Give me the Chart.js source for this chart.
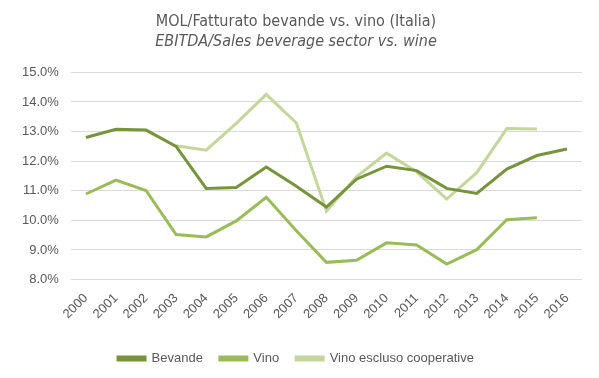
<!DOCTYPE html>
<html lang="it">
<head>
  <meta charset="UTF-8">
  <title>MOL/Fatturato bevande vs. vino</title>
  <script src="https://cdn.jsdelivr.net/npm/chart.js"></script>
  <style>
    html, body {
      margin: 0;
      padding: 0;
      background: #ffffff;
    }
    .chart-box {
      width: 599px;
      height: 378px;
    }
  </style>
</head>
<body>
  <div class="chart-box">
    <canvas id="chart"></canvas>
  </div>
  <script>
    // anni
    const years = ['2000', '2001', '2002', '2003', '2004', '2005', '2006', '2007', '2008',
      '2009', '2010', '2011', '2012', '2013', '2014', '2015', '2016'];

    // MOL/Fatturato in %
    const bevande = [12.80, 13.08, 13.05, 12.50, 11.08, 11.11, 11.80, 11.15, 10.45,
      11.39, 11.83, 11.68, 11.08, 10.91, 11.73, 12.19, 12.41];
    const vino = [10.89, 11.36, 11.01, 9.52, 9.44, 9.98, 10.78, 9.65, 8.58,
      8.65, 9.24, 9.17, 8.52, 9.01, 10.02, 10.09, null];
    const vinoEsclusoCoop = [null, null, null, 12.52, 12.37, 13.28, 14.26, 13.29, 10.31,
      11.47, 12.27, 11.64, 10.72, 11.61, 13.10, 13.09, null];

    const grey = '#595959';
    const font = 'Liberation Sans, Arial, sans-serif';

    function serie(label, data, color) {
      return {
        label: label,
        data: data,
        borderColor: color,
        backgroundColor: color,
        borderWidth: 3,
        pointRadius: 0,
        tension: 0,
        fill: false
      };
    }

    new Chart(document.getElementById('chart'), {
      type: 'line',
      data: {
        labels: years,
        datasets: [
          serie('Bevande', bevande, '#77933c'),
          serie('Vino', vino, '#9bbb59'),
          serie('Vino escluso cooperative', vinoEsclusoCoop, '#c3d69b')
        ]
      },
      options: {
        responsive: true,
        maintainAspectRatio: false,
        animation: false,
        layout: { padding: { left: 10, right: 17, top: 12, bottom: 3 } },
        plugins: {
          title: {
            display: true,
            text: 'MOL/Fatturato bevande vs. vino (Italia)',
            color: grey,
            font: { family: 'DejaVu Sans Condensed, Liberation Sans Narrow, sans-serif', size: 16, weight: 'normal' },
            padding: { top: 0, bottom: 1 }
          },
          subtitle: {
            display: true,
            text: 'EBITDA/Sales beverage sector vs. wine',
            color: grey,
            font: { family: 'DejaVu Sans Condensed, Liberation Sans Narrow, sans-serif', size: 16, style: 'italic' },
            padding: { top: 0, bottom: 21 }
          },
          legend: {
            position: 'bottom',
            labels: {
              color: grey,
              font: { family: font, size: 13 },
              boxWidth: 27,
              boxHeight: 3,
              padding: 17
            }
          },
          tooltip: { enabled: false }
        },
        scales: {
          x: {
            offset: true,
            grid: { display: false },
            border: { display: false },
            afterFit: scale => { scale.height += 10; },
            ticks: {
              color: grey,
              font: { family: font, size: 13 },
              maxRotation: 45,
              minRotation: 45,
              autoSkip: false
            }
          },
          y: {
            min: 8,
            max: 15,
            border: { display: false },
            grid: { color: '#d9d9d9', lineWidth: 1, drawTicks: false },
            ticks: {
              stepSize: 1,
              padding: 12,
              color: grey,
              font: { family: font, size: 13 },
              callback: v => v.toFixed(1) + '%'
            }
          }
        }
      }
    });
  </script>
</body>
</html>
